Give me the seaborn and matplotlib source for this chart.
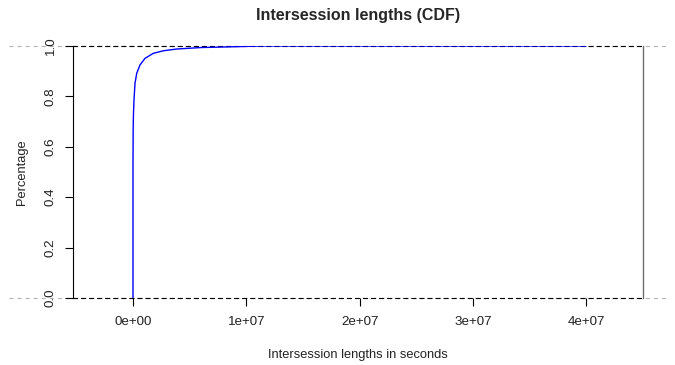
import matplotlib
matplotlib.use("Agg")
import matplotlib.pyplot as plt
import seaborn as sns
import pandas as pd

# Empirical CDF of intersession lengths (seconds -> cumulative share)
lengths_sec = [0, 0, 1.5e4, 4.0e4, 8.8e4, 1.77e5, 3.3e5, 6.2e5, 1.06e6, 1.79e6,
               2.67e6, 3.86e6, 5.3e6, 6.06e6, 8.0e6, 1.136e7, 4.0e7]
cum_share = [0.0, 0.53, 0.667, 0.73, 0.786, 0.852, 0.892, 0.925, 0.951, 0.971,
             0.981, 0.988, 0.992, 0.994, 0.996, 1.0, 1.0]

x_ticks = [0, 1e7, 2e7, 3e7, 4e7]
x_tick_labels = ["0e+00", "1e+07", "2e+07", "3e+07", "4e+07"]
y_ticks = [0.0, 0.2, 0.4, 0.6, 0.8, 1.0]
y_tick_labels = ["0.0", "0.2", "0.4", "0.6", "0.8", "1.0"]

sns.set_style("white")
plt.rcParams["font.family"] = ["Liberation Sans", "DejaVu Sans"]
plt.rcParams["lines.scale_dashes"] = False

df = pd.DataFrame({"length": lengths_sec, "share": cum_share})

W, H = 675, 365
fig = plt.figure(figsize=(W / 100, H / 100), dpi=100)
L, R, T, B = 73, 643, 46, 298
ax = fig.add_axes([L / W, 1 - B / H, (R - L) / W, (B - T) / H])

# light reference lines at 0 and 1 running past the plot frame
for yv in (0.0, 1.0):
    ax.axhline(yv, xmin=(9 - L) / (R - L), xmax=(668 - L) / (R - L),
               color="#b3b3b3", lw=0.8, ls=(0, (2.9, 2.9)), clip_on=False, zorder=0)

sns.lineplot(data=df, x="length", y="share", estimator=None, sort=False,
             color="blue", lw=1.0, ax=ax, zorder=3)

ax.set_xlim(-0.5295e7, 4.501e7)
ax.set_ylim(0, 1)

for side in ("top", "bottom"):
    ax.spines[side].set_linestyle((0, (2.9, 2.9)))
    ax.spines[side].set_color("black")
    ax.spines[side].set_linewidth(0.8)
ax.spines["left"].set_color("black")
ax.spines["left"].set_linewidth(0.8)
ax.spines["right"].set_color("#707070")
ax.spines["right"].set_linewidth(1.0)

ax.set_xticks(x_ticks)
ax.set_xticklabels(x_tick_labels)
ax.set_yticks(y_ticks)
ax.set_yticklabels(y_tick_labels, rotation=90, va="center")
ax.tick_params(axis="both", direction="out", length=5.8, width=0.8, color="black",
               labelsize=9.6, labelcolor="#222222", bottom=True, left=True)
ax.tick_params(axis="x", pad=7.5)
ax.tick_params(axis="y", pad=6)

ax.set_xlabel("Intersession lengths in seconds", fontsize=9.3, color="#222222", labelpad=15)
ax.set_ylabel("Percentage", fontsize=9.3, color="#222222", labelpad=12)
ax.set_title("Intersession lengths (CDF)", fontsize=11.5, fontweight="bold", pad=19)
ax.grid(False)

fig.savefig("out.png", dpi=100)
